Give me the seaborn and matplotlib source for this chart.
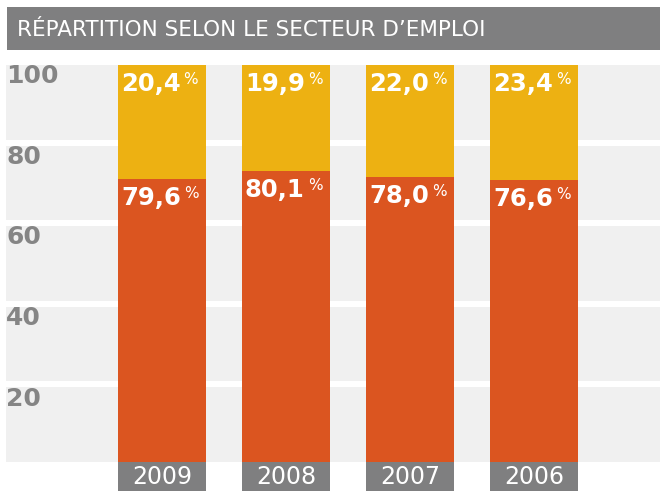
import matplotlib
matplotlib.use("Agg")
import matplotlib.pyplot as plt
import matplotlib.transforms as mtransforms
from matplotlib.patches import Rectangle
import seaborn as sns
import pandas as pd

# ---- data ----
annees = ["2009", "2008", "2007", "2006"]
label_public = ["79,6", "80,1", "78,0", "76,6"]   # printed labels (orange)
label_prive = ["20,4", "19,9", "22,0", "23,4"]    # printed labels (yellow)
hauteur_orange = [71.3, 73.3, 71.8, 71.0]         # orange heights as drawn
total = [100, 100, 100, 100]
graduations = [100, 80, 60, 40, 20]
titre = "RÉPARTITION SELON LE SECTEUR D\u2019EMPLOI"

YELLOW = "#EDB112"
ORANGE = "#DB5520"
GRAY = "#7F7F80"
TICKGRAY = "#858585"
BAND = "#F0F0F0"

W, H = 660, 491
sns.set_theme(style="white")
plt.rcParams["font.family"] = ["DejaVu Sans"]

fig = plt.figure(figsize=(W / 100, H / 100), dpi=100)
fig.patch.set_facecolor("white")

# axes: x 6..660 px, y 65 (100) .. 462 (0) px
ax = fig.add_axes([6 / W, (H - 462) / H, (660 - 6) / W, (462 - 65) / H])
ax.set_facecolor("white")

# background bands
for i in range(5):
    lo = 20.3 * i
    ax.axhspan(lo, lo + 18.8, color=BAND, zorder=0, lw=0)

df = pd.DataFrame({"annee": annees, "total": total, "public": hauteur_orange})
sns.barplot(data=df, x="annee", y="total", order=annees, color=YELLOW,
            saturation=1, width=0.71, ax=ax, zorder=2, linewidth=0,
            edgecolor="none")
sns.barplot(data=df, x="annee", y="public", order=annees, color=ORANGE,
            saturation=1, width=0.71, ax=ax, zorder=3, linewidth=0,
            edgecolor="none")

ax.set_xlim(-1.258, 4.016)
ax.set_ylim(0, 100)
for s in ax.spines.values():
    s.set_visible(False)
ax.set_xticks([])
ax.set_yticks([])
ax.set_xlabel("")
ax.set_ylabel("")

# y graduation labels (top of each band)
ytrans = mtransforms.blended_transform_factory(ax.transAxes, ax.transData)
for v in graduations:
    i = v // 20 - 1
    top = 20.3 * i + 18.8
    ax.text(0.0, top + 0.2, str(v), transform=ytrans,
            ha="left", va="top", fontsize=18, fontweight="bold",
            color=TICKGRAY, zorder=5)

# value labels
hw = 0.355
for i, a in enumerate(annees):
    left = i - hw
    for yv, lab in ((100, label_prive[i]), (hauteur_orange[i], label_public[i])):
        t = ax.annotate(lab, xy=(left, yv), xycoords="data",
                        xytext=(3, -7), textcoords="offset pixels",
                        ha="left", va="top", fontsize=17.5, fontweight="bold",
                        color="white", zorder=6)
        ax.annotate("%", xy=(1, 1), xycoords=t, xytext=(3, 0),
                    textcoords="offset pixels", ha="left", va="top",
                    fontsize=11, color="white", zorder=6)

# year boxes below the plot
bt = mtransforms.blended_transform_factory(ax.transData, fig.transFigure)
for i, a in enumerate(annees):
    fig.patches.append(Rectangle((i - hw, 0), 2 * hw, (H - 462) / H,
                                 transform=bt, facecolor=GRAY, lw=0,
                                 figure=fig))
    fig.text(i, (H - 476.5) / H, a, transform=bt, color="white",
             fontsize=17, ha="center", va="center")

# title banner
fig.patches.append(Rectangle((7 / W, (H - 50) / H), (W - 7) / W, 43 / H,
                             transform=fig.transFigure, facecolor=GRAY, lw=0,
                             figure=fig))
fig.text(17 / W, (H - 30.5) / H, titre, color="white", fontsize=15.5,
         ha="left", va="center")

fig.savefig("out.png", dpi=100, facecolor="white")
